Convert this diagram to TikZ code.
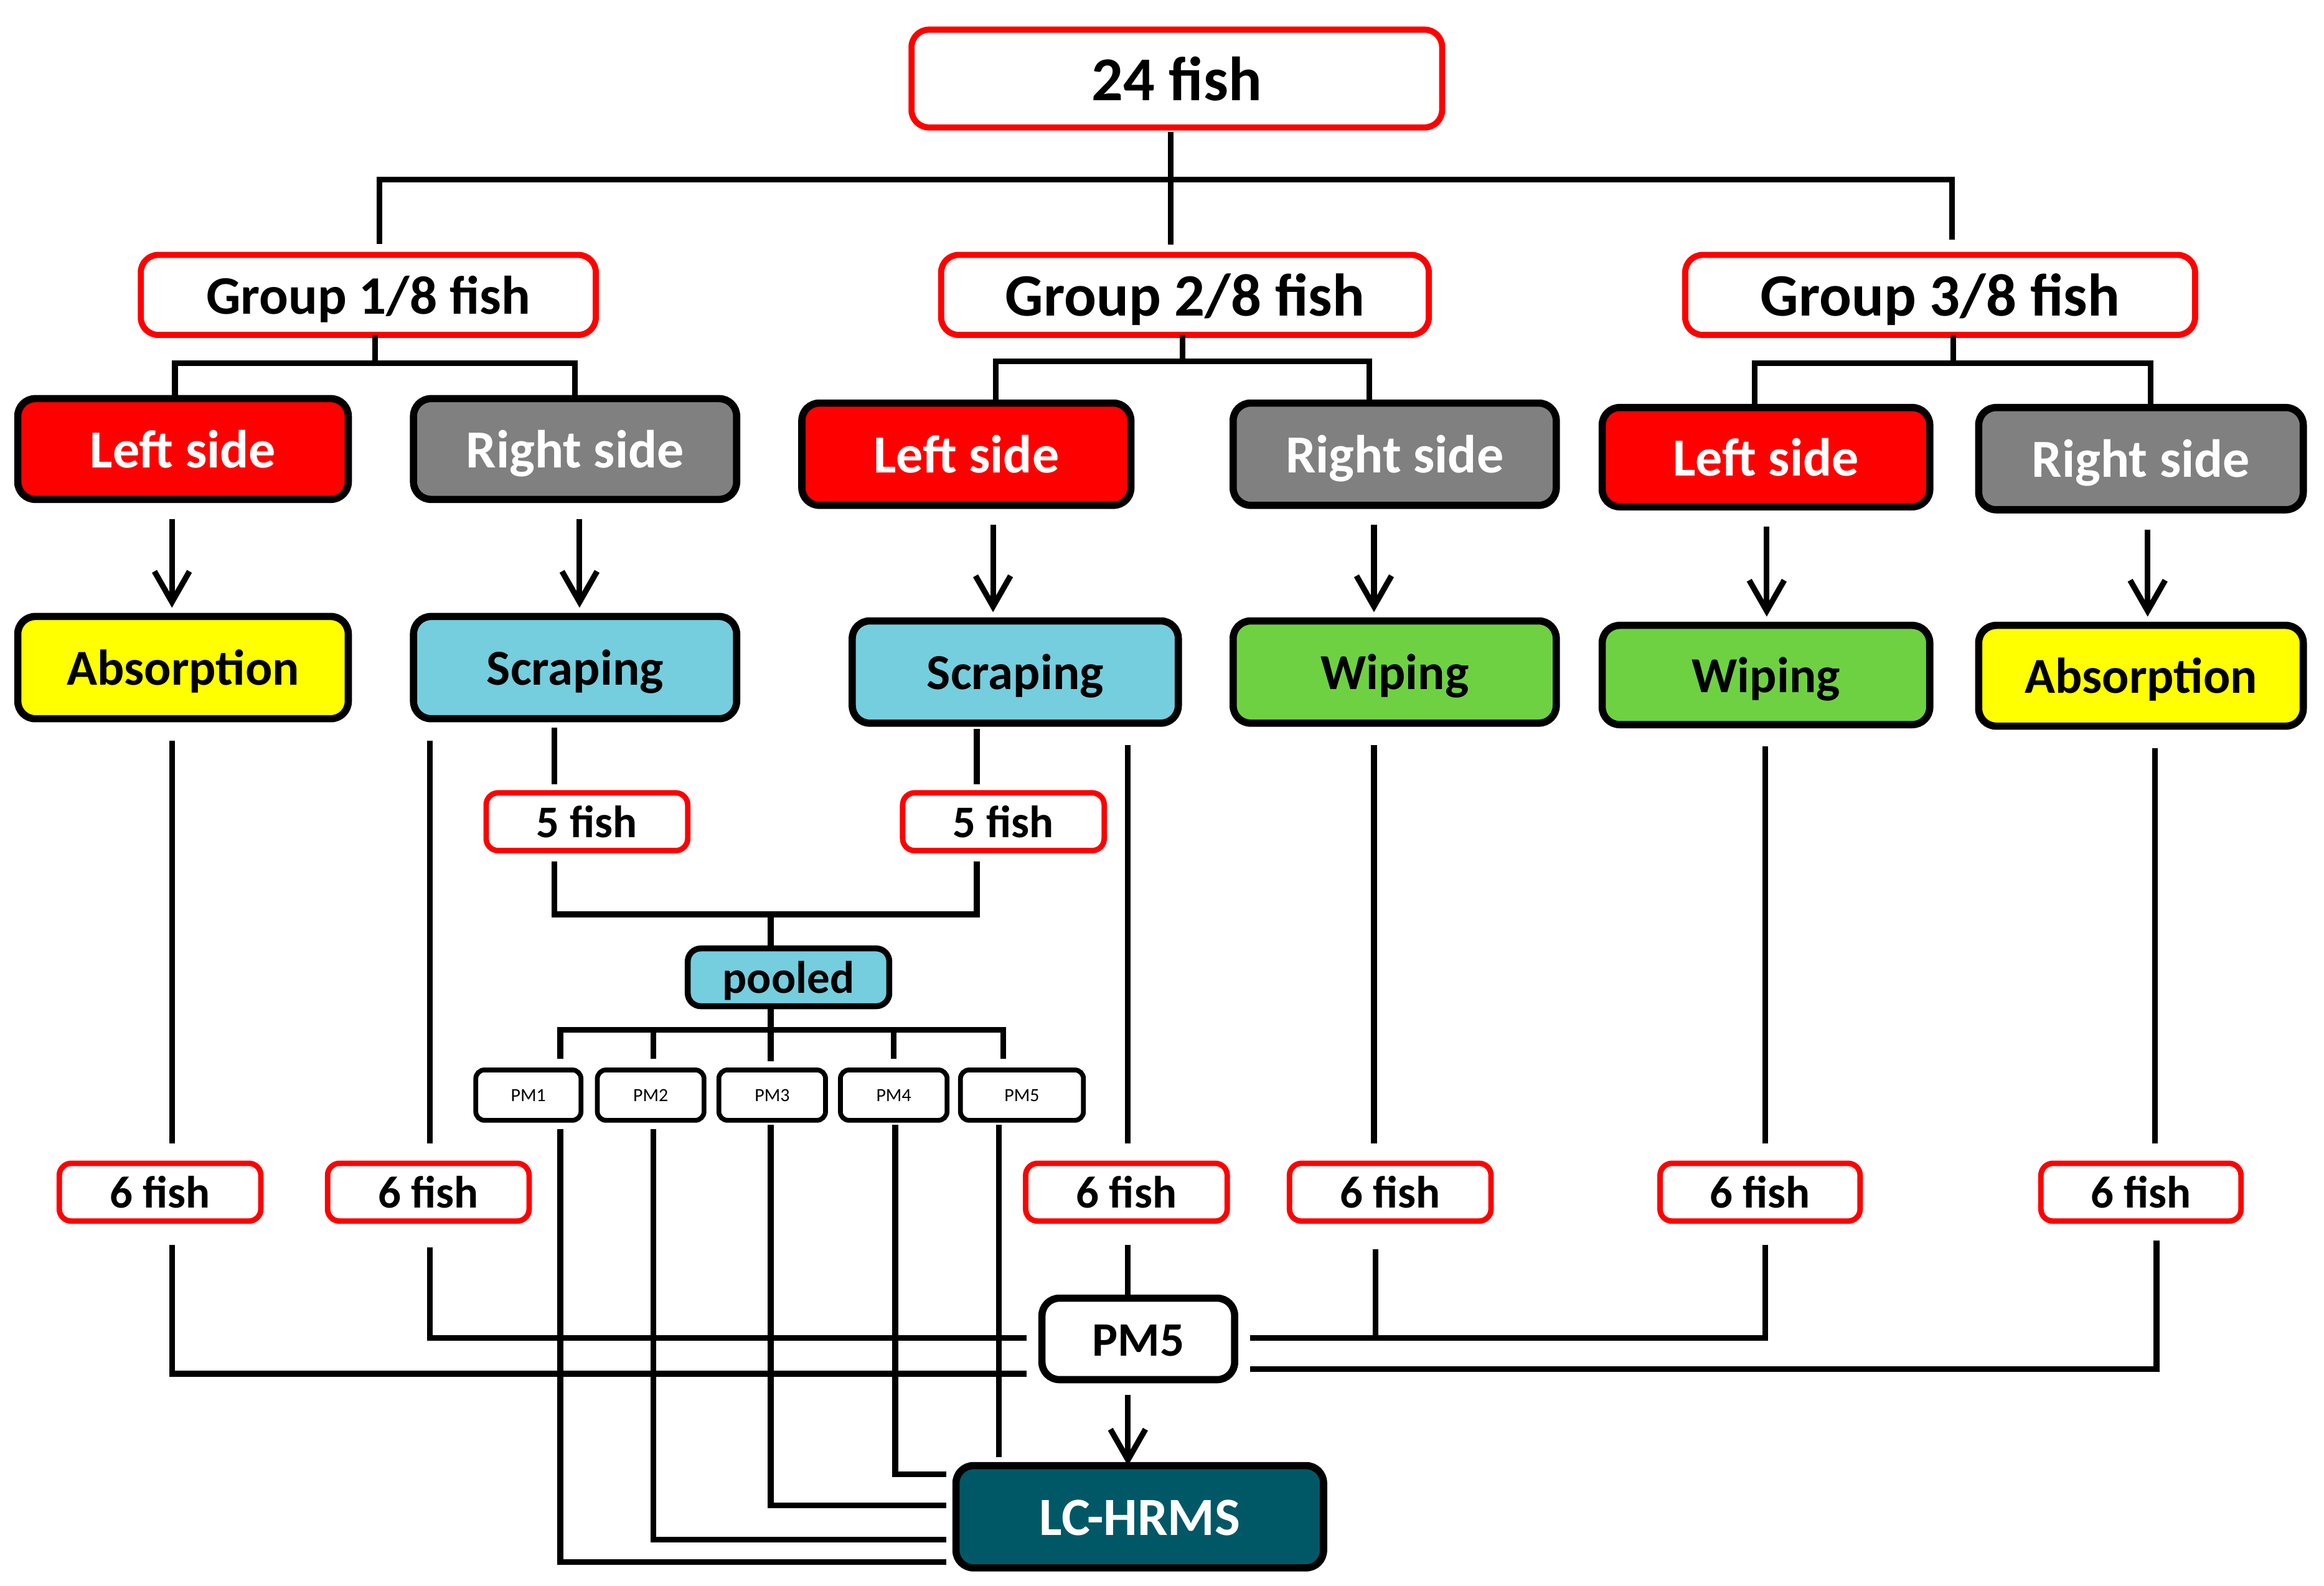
\documentclass[tikz,border=0pt]{standalone}
\usepackage{fontspec}
\setmainfont{Carlito}
\usetikzlibrary{arrows.meta}
\definecolor{cRed}{RGB}{255,0,0}
\definecolor{cGray}{RGB}{128,128,128}
\definecolor{cYel}{RGB}{255,255,0}
\definecolor{cBlue}{RGB}{116,206,222}
\definecolor{cGreen}{RGB}{110,209,66}
\definecolor{cTeal}{RGB}{0,88,102}
\newcommand\mybox[7]{\node[#1,minimum width={(#5-#3-4)*0.6774pt},minimum height={(#6-#4-4)*0.6774pt}] (#2) at ({(#3+#5)/2},{(#4+#6)/2}) {\raisebox{-0.35em}[0pt][0pt]{#7}};}
\begin{document}
\begin{tikzpicture}[x=0.6774pt,y=-0.6774pt,
  bx/.style={inner sep=0pt,outer sep=0pt},
  redbox/.style={bx,draw=cRed,line width=2.8pt,rounded corners=8pt,fill=white},
  smallred/.style={bx,draw=cRed,line width=2.5pt,rounded corners=5.5pt,fill=white,font=\bfseries\fontsize{20.7}{24}\selectfont},
  side/.style={bx,draw=black,line width=3.3pt,rounded corners=8pt,text=white,font=\bfseries\fontsize{24.5}{29}\selectfont},
  meth/.style={bx,draw=black,line width=3.3pt,rounded corners=8pt,font=\bfseries\fontsize{23}{27}\selectfont},
  pooledst/.style={bx,draw=black,line width=2.7pt,rounded corners=6pt,fill=cBlue,font=\bfseries\fontsize{20.8}{24}\selectfont},
  pmst/.style={bx,draw=black,line width=2.2pt,rounded corners=4pt,fill=white,font=\fontsize{8.5}{10}\selectfont},
  ln/.style={line width=2.6pt},
  ar/.style={ln,-{Straight Barb[length=14pt,width=16pt]}}]
\useasboundingbox[fill=white] (0,0) rectangle (1568,1070);
% boxes
\mybox{redbox,font=\bfseries\fontsize{28.5}{34}\selectfont}{f24}{613}{18}{975}{88}{24 fish}
\mybox{redbox,font=\bfseries\fontsize{24.8}{29}\selectfont}{g1}{93}{170}{404}{228}{Group 1/8 fish}
\mybox{redbox,font=\bfseries\fontsize{27.5}{32}\selectfont}{g2}{633}{170}{966}{228}{Group 2/8 fish}
\mybox{redbox,font=\bfseries\fontsize{27.5}{32}\selectfont}{g3}{1135}{170}{1483}{228}{Group 3/8 fish}
\mybox{side,fill=cRed}{L1}{10}{267}{237}{339}{Left side}
\mybox{side,fill=cGray}{R1}{277}{267}{499}{339}{Right side}
\mybox{side,fill=cRed}{L2}{539}{270}{765}{343}{Left side}
\mybox{side,fill=cGray}{R2}{830}{270}{1052}{343}{Right side}
\mybox{side,fill=cRed}{L3}{1079}{273}{1304}{344}{Left side}
\mybox{side,fill=cGray}{R3}{1333}{273}{1556}{346}{Right side}
\mybox{meth,fill=cYel}{M1}{10}{414}{237}{487}{Absorption}
\mybox{meth,fill=cBlue}{M2}{277}{414}{499}{487}{Scraping}
\mybox{meth,fill=cBlue}{M3}{573}{417}{797}{490}{Scraping}
\mybox{meth,fill=cGreen}{M4}{830}{417}{1052}{490}{Wiping}
\mybox{meth,fill=cGreen}{M5}{1079}{420}{1304}{491}{Wiping}
\mybox{meth,fill=cYel}{M6}{1333}{420}{1556}{492}{Absorption}
\mybox{smallred}{P1}{326}{533}{466}{576}{5 fish}
\mybox{smallred}{P2}{607}{533}{747}{576}{5 fish}
\mybox{pooledst}{pool}{462}{638}{602}{681}{pooled}
\mybox{pmst}{pm1}{319}{720}{394}{758}{PM1}
\mybox{pmst}{pm2}{401}{720}{477}{758}{PM2}
\mybox{pmst}{pm3}{483}{720}{559}{758}{PM3}
\mybox{pmst}{pm4}{565}{720}{641}{758}{PM4}
\mybox{pmst}{pm5}{646}{720}{733}{758}{PM5}
\mybox{smallred}{F1}{38}{783}{178}{826}{6 fish}
\mybox{smallred}{F2}{219}{783}{359}{826}{6 fish}
\mybox{smallred}{F3}{690}{783}{830}{826}{6 fish}
\mybox{smallred}{F4}{868}{783}{1008}{826}{6 fish}
\mybox{smallred}{F5}{1118}{783}{1257}{826}{6 fish}
\mybox{smallred}{F6}{1375}{783}{1514}{826}{6 fish}
\mybox{meth,fill=white,font=\bfseries\fontsize{22}{26}\selectfont}{PMB}{701}{874}{835}{933}{PM5}
\mybox{side,fill=cTeal,font=\bfseries\fontsize{24.6}{29}\selectfont}{LC}{643}{987}{895}{1060}{LC-HRMS}
% junction coordinates
\coordinate (jt) at (790,121); \coordinate (jtL) at (256,121); \coordinate (jtR) at (1317,121);
\coordinate (j1) at (253,245); \coordinate (j1L) at (118,245); \coordinate (j1R) at (388,245);
\coordinate (j2) at (798,244); \coordinate (j2L) at (672,244); \coordinate (j2R) at (924,244);
\coordinate (j3) at (1318,245); \coordinate (j3L) at (1184,245); \coordinate (j3R) at (1451,245);
\foreach \n/\x in {a1/116,a2/391,a3/670,a4/927,a5/1192,a6/1449,
                   d1/116,d2/290,d3/761,d4/927,d5/1191,d6/1454,
                   s1/374,s2/659,q1/378,q2/441,q4/603,q5/677}
  \coordinate (\n) at (\x,0);
\coordinate (pj) at (520,617); \coordinate (qj) at (520,695);
\coordinate (k1) at (378,1054); \coordinate (k2) at (441,1039);
\coordinate (k3) at (520,1016); \coordinate (k4) at (604,995); \coordinate (k5) at (674,0);
\coordinate (h1) at (116,927); \coordinate (h2) at (290,903); \coordinate (h3) at (761,0);
\coordinate (h4) at (928,903); \coordinate (h5) at (1191,903); \coordinate (h6) at (1455,924);
% top tree
\draw[ln,shorten <=2pt,shorten >=4.7pt] (f24.south -| jt) -- (g2.north -| jt);
\draw[ln,shorten <=5pt,shorten >=7pt] (g1.north -| jtL) -- (jtL) -- (jtR) -- (g3.north -| jtR);
\draw[ln] (g1.south -| j1) -- (j1);
\draw[ln] (L1.north -| j1L) -- (j1L) -- (j1R) -- (R1.north -| j1R);
\draw[ln] (g2.south -| j2) -- (j2);
\draw[ln] (L2.north -| j2L) -- (j2L) -- (j2R) -- (R2.north -| j2R);
\draw[ln] (g3.south -| j3) -- (j3);
\draw[ln] (L3.north -| j3L) -- (j3L) -- (j3R) -- (R3.north -| j3R);
% side -> method
\foreach \s/\m/\c in {L1/M1/a1,R1/M2/a2,L2/M3/a3,R2/M4/a4,L3/M5/a5,R3/M6/a6}
  \draw[ar,shorten <=9pt,shorten >=4pt] (\s.south -| \c) -- (\m.north -| \c);
% method -> 6 fish
\foreach \m/\f/\c in {M1/F1/d1,M2/F2/d2,M3/F3/d3,M4/F4/d4,M5/F5/d5,M6/F6/d6}
  \draw[ln,shorten <=10pt,shorten >=9pt] (\m.south -| \c) -- (\f.north -| \c);
% scraping -> 5 fish
\draw[ln,shorten <=4pt,shorten >=4pt] (M2.south -| s1) -- (P1.north -| s1);
\draw[ln,shorten <=2.5pt,shorten >=4pt] (M3.south -| s2) -- (P2.north -| s2);
% 5 fish -> pooled
\draw[ln,shorten <=5pt,shorten >=5pt] (P1.south -| s1) |- (pj) -| (P2.south -| s2);
\draw[ln] (pj) -- (pool.north -| pj);
% pooled -> PMs
\draw[ln] (pool.south -| qj) -- (qj);
\draw[ln,shorten <=5pt,shorten >=5pt] (pm1.north -| q1) |- (qj) -| (pm5.north -| q5);
\draw[ln,shorten >=5pt] (qj -| q2) -- (pm2.north -| q2);
\draw[ln,shorten >=4pt] (qj) -- (pm3.north -| qj);
\draw[ln,shorten >=5pt] (qj -| q4) -- (pm4.north -| q4);
% PMs -> LC-HRMS
\draw[ln,shorten <=4pt,shorten >=4.5pt] (pm1.south -| k1) |- (LC.west |- k1);
\draw[ln,shorten <=4pt,shorten >=4.5pt] (pm2.south -| k2) |- (LC.west |- k2);
\draw[ln,shorten <=2pt,shorten >=4.5pt] (pm3.south -| k3) |- (LC.west |- k3);
\draw[ln,shorten <=2pt,shorten >=4.5pt] (pm4.south -| k4) |- (LC.west |- k4);
\draw[ln,shorten <=2pt,shorten >=4pt] (pm5.south -| k5) -- (LC.north -| k5);
% 6 fish -> PM5
\draw[ln,shorten <=11pt,shorten >=7pt] (F1.south -| h1) |- (PMB.west |- h1);
\draw[ln,shorten <=12pt,shorten >=7pt] (F2.south -| h2) |- (PMB.west |- h2);
\draw[ln,shorten <=11pt] (F3.south -| h3) -- (PMB.north -| h3);
\draw[ln,shorten <=13pt] (F4.south -| h4) -- (h4);
\draw[ln,shorten <=11pt,shorten >=7pt] (F5.south -| h5) |- (PMB.east |- h5);
\draw[ln,shorten <=9pt,shorten >=7pt] (F6.south -| h6) |- (PMB.east |- h6);
% PM5 -> LC-HRMS
\draw[ar,shorten <=7pt] (PMB.south -| h3) -- (LC.north -| h3);
\end{tikzpicture}
\end{document}
